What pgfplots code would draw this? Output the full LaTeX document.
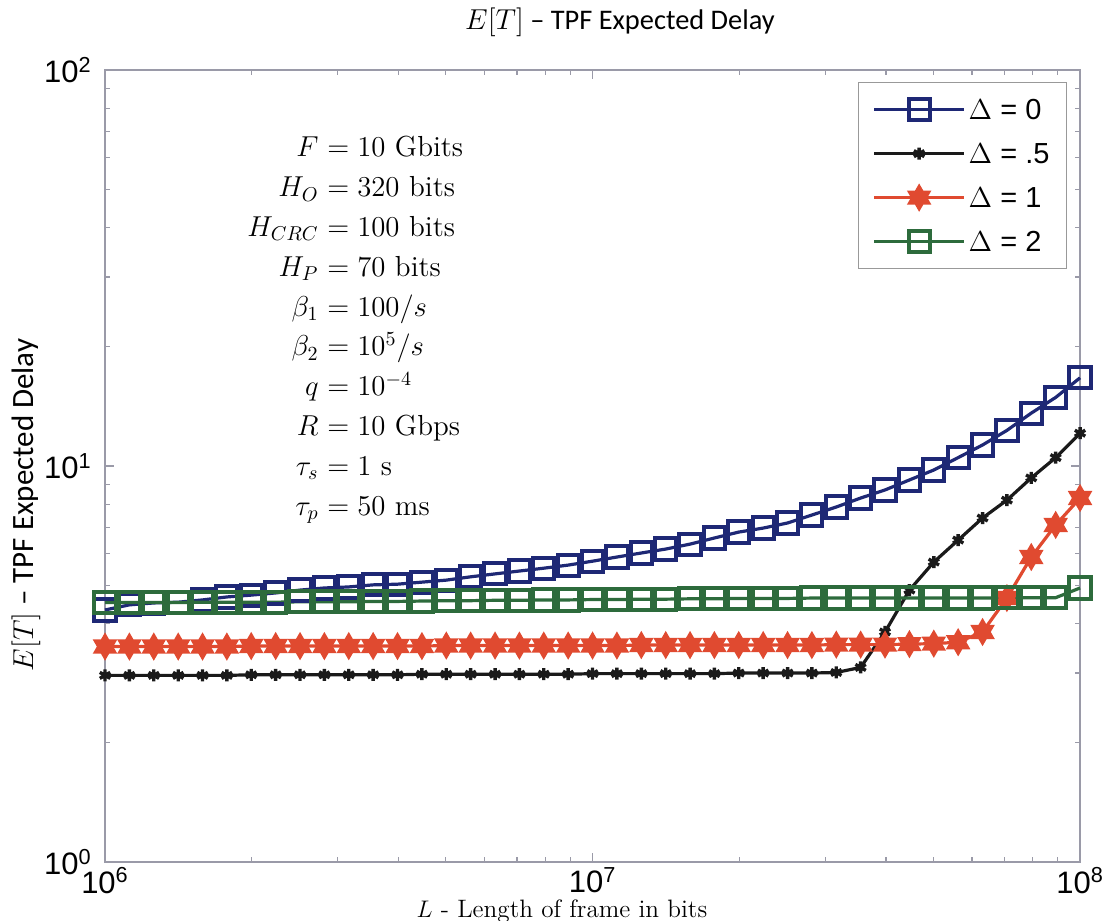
\documentclass[border=0pt]{standalone}
\usepackage{pgfplots}
\pgfplotsset{compat=1.18}
\usepackage{pgfplotstable}
\usepackage{fontspec}
\newfontfamily\arialf{Liberation Sans}
\newfontfamily\calib{Carlito}
\definecolor{cblue}{HTML}{1E2875}
\definecolor{cblack}{HTML}{1A1A1A}
\definecolor{cred}{HTML}{E04A30}
\definecolor{cgreen}{HTML}{2D6B3C}
\definecolor{caxis}{HTML}{9A9AA8}
\pgfdeclareplotmark{hexagram}{%
  \pgfpathmoveto{\pgfpointpolar{90}{\pgfplotmarksize}}%
  \pgfpathlineto{\pgfpointpolar{120}{0.577\pgfplotmarksize}}%
  \pgfpathlineto{\pgfpointpolar{150}{\pgfplotmarksize}}%
  \pgfpathlineto{\pgfpointpolar{180}{0.577\pgfplotmarksize}}%
  \pgfpathlineto{\pgfpointpolar{210}{\pgfplotmarksize}}%
  \pgfpathlineto{\pgfpointpolar{240}{0.577\pgfplotmarksize}}%
  \pgfpathlineto{\pgfpointpolar{270}{\pgfplotmarksize}}%
  \pgfpathlineto{\pgfpointpolar{300}{0.577\pgfplotmarksize}}%
  \pgfpathlineto{\pgfpointpolar{330}{\pgfplotmarksize}}%
  \pgfpathlineto{\pgfpointpolar{0}{0.577\pgfplotmarksize}}%
  \pgfpathlineto{\pgfpointpolar{30}{\pgfplotmarksize}}%
  \pgfpathlineto{\pgfpointpolar{60}{0.577\pgfplotmarksize}}%
  \pgfpathclose
  \pgfusepathqfillstroke
}
\pgfplotstableread{
x       blue  black red  green
1e6     4.33  2.96  3.50 4.52
1.122e6 4.46  2.96  3.50 4.52
1.259e6 4.51  2.96  3.50 4.52
1.413e6 4.53  2.96  3.50 4.52
1.585e6 4.59  2.96  3.50 4.53
1.778e6 4.67  2.96  3.50 4.53
1.995e6 4.72  2.97  3.51 4.53
2.239e6 4.78  2.97  3.51 4.53
2.512e6 4.86  2.97  3.51 4.54
2.818e6 4.92  2.97  3.51 4.54
3.162e6 4.95  2.97  3.51 4.54
3.548e6 5.01  2.97  3.51 4.55
3.981e6 5.03  2.97  3.51 4.55
4.467e6 5.09  2.98  3.51 4.56
5.012e6 5.15  2.98  3.52 4.57
5.623e6 5.25  2.98  3.52 4.57
6.310e6 5.34  2.98  3.52 4.58
7.079e6 5.43  2.98  3.52 4.58
7.943e6 5.52  2.98  3.52 4.59
8.913e6 5.62  2.98  3.52 4.59
1e7     5.75  2.99  3.52 4.60
1.122e7 5.89  2.99  3.52 4.60
1.259e7 6.03  2.99  3.53 4.61
1.413e7 6.17  2.99  3.53 4.61
1.585e7 6.35  2.99  3.53 4.62
1.778e7 6.58  2.99  3.53 4.62
1.995e7 6.81  3.00  3.53 4.63
2.239e7 6.97  3.00  3.53 4.63
2.512e7 7.18  3.00  3.53 4.63
2.818e7 7.52  3.00  3.53 4.64
3.162e7 7.88  3.01  3.54 4.64
3.548e7 8.30  3.10  3.54 4.64
3.981e7 8.70  3.81  3.54 4.64
4.467e7 9.22  4.86  3.55 4.64
5.012e7 9.77  5.72  3.56 4.64
5.623e7 10.5  6.50  3.59 4.64
6.310e7 11.3  7.39  3.81 4.64
7.079e7 12.3  8.20  4.64 4.65
7.943e7 13.6  9.33  5.89 4.65
8.913e7 14.9  10.5  7.10 4.65
1e8     16.7  12.1  8.30 4.92
}\datatab
\newcommand\pp{\fontsize{14.5}{16}\selectfont}
\begin{document}
\begin{tikzpicture}
\useasboundingbox (-52.5pt,-29pt) rectangle (500.5pt,431pt);
\begin{axis}[
  scale only axis, width=487.5pt, height=396pt,
  xmode=log, ymode=log,
  xmin=1e6, xmax=1e8, ymin=1, ymax=100,
  clip=false,
  axis line style={caxis, line width=0.6pt},
  every tick/.style={caxis, line width=0.6pt},
  tick align=inside,
  major tick length=4.5pt, minor tick length=2.5pt,
  xtick={1e6,1e7,1e8}, ytick={1,10,100},
  xticklabels={10\textsuperscript{6},10\textsuperscript{7},10\textsuperscript{8}},
  yticklabels={10\textsuperscript{0},10\textsuperscript{1},10\textsuperscript{2}},
  ticklabel style={font=\arialf\fontsize{15.5}{18}\selectfont, text=black, inner sep=0.5pt},
  xticklabel style={yshift=-2pt, text depth=0pt},
  yticklabel style={xshift=-6pt},
  legend cell align=left,
  legend style={at={(0.9867,0.9848)}, anchor=north east, draw=gray!80,
    line width=0.6pt, font=\arialf\fontsize{14.5}{17}\selectfont,
    row sep=7pt, inner xsep=7pt, inner ysep=6pt,
    nodes={inner sep=1.5pt, text height=11pt, text depth=1pt}},
  legend image code/.code={%
    \draw[mark repeat=2,mark phase=2,#1] plot coordinates {(0pt,0pt) (22.5pt,0pt) (45pt,0pt)};},
]
\addplot[cblue, line width=1.6pt, mark=square, mark size=5.3pt, mark options={line width=2pt}] table[x=x,y=blue] {\datatab};
\addlegendentry{$\Delta$ = 0}
\addplot[cblack, line width=1.6pt, mark=asterisk, mark size=3pt, mark options={line width=1.7pt}] table[x=x,y=black] {\datatab};
\addlegendentry{$\Delta$ = .5}
\addplot[cred, line width=1.6pt, mark=hexagram, mark size=6.3pt, mark options={fill=cred, draw=cred, line width=0.8pt}] table[x=x,y=red] {\datatab};
\addlegendentry{$\Delta$ = 1}
\addplot[cgreen, line width=1.6pt, mark=square, mark size=5.3pt, mark options={line width=2pt}] table[x=x,y=green] {\datatab};
\addlegendentry{$\Delta$ = 2}
\end{axis}
% title and labels
\node[font=\calib\fontsize{14.2}{16}\selectfont] at (257.5pt,420pt) {$E[T]$ – TPF Expected Delay};
\node[font=\calib\fontsize{15.5}{18}\selectfont, rotate=90] at (-39.5pt,178.5pt) {$E[T]$ – TPF Expected Delay};
\node[font=\fontsize{12.6}{14}\selectfont, inner sep=0.5pt] at (228.5pt,-24.6pt) {$L$ - Length of frame in bits};
% parameter block
\def\xe{107pt}
\tikzset{pl/.style={anchor=base east,font=\pp,inner sep=0pt},pr/.style={anchor=base west,font=\pp,inner sep=0pt}}
\node[pl] at (\xe,352.5pt) {$F$};
\node[pr] at (\xe,352.5pt) {${}= 10\ \mathrm{Gbits}$};
\node[pl] at (\xe,332.6pt) {$H_O$};
\node[pr] at (\xe,332.6pt) {${}= 320\ \mathrm{bits}$};
\node[pl] at (\xe,312.7pt) {$H_{CRC}$};
\node[pr] at (\xe,312.7pt) {${}= 100\ \mathrm{bits}$};
\node[pl] at (\xe,292.8pt) {$H_P$};
\node[pr] at (\xe,292.8pt) {${}= 70\ \mathrm{bits}$};
\node[pl] at (\xe,272.9pt) {$\beta_1$};
\node[pr] at (\xe,272.9pt) {${}= 100/s$};
\node[pl] at (\xe,253.0pt) {$\beta_2$};
\node[pr] at (\xe,253.0pt) {${}= 10^{5}/s$};
\node[pl] at (\xe,233.1pt) {$q$};
\node[pr] at (\xe,233.1pt) {${}= 10^{-4}$};
\node[pl] at (\xe,213.2pt) {$R$};
\node[pr] at (\xe,213.2pt) {${}= 10\ \mathrm{Gbps}$};
\node[pl] at (\xe,193.3pt) {$\tau_s$};
\node[pr] at (\xe,193.3pt) {${}= 1\ \mathrm{s}$};
\node[pl] at (\xe,173.4pt) {$\tau_p$};
\node[pr] at (\xe,173.4pt) {${}= 50\ \mathrm{ms}$};
\end{tikzpicture}
\end{document}
